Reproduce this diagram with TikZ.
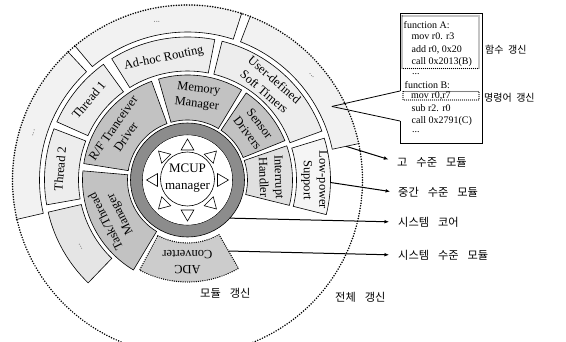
\documentclass[tikz,border=0pt]{standalone}
\usepackage{fontspec}
\setmainfont{Liberation Serif}
\newfontfamily\kfont{Noto Sans CJK KR}
\usetikzlibrary{arrows.meta,calc}
\newcommand\ksp{\hspace{0.8em}}
\newcommand\kssp{\hspace{0.45em}}
% filled + outlined annular sector: style, a1, a2, r1, r2
\newcommand\sector[5]{\path[#1] (#2:#4) arc[start angle=#2,end angle=#3,radius=#4] -- (#3:#5) arc[start angle=#3,end angle=#2,radius=#5] -- cycle;}
% outermost sector: fill, a1, a2 (outer edge left to the dotted circle)
\newcommand\osector[3]{%
  \fill[#1] (#2:148pt) arc[start angle=#2,end angle=#3,radius=148pt] -- (#3:176pt) arc[start angle=#3,end angle=#2,radius=176pt] -- cycle;
  \draw[thinline] (#2:176pt) -- (#2:148pt) arc[start angle=#2,end angle=#3,radius=148pt] -- (#3:176pt);}
\tikzset{
  thinline/.style={line width=0.6pt,draw=black},
  midw/.style={thinline,fill=black!24},
  outw/.style={thinline,fill=black!7},
  lab/.style={align=center,inner sep=0pt,font=\fontsize{12.5}{15.5}\selectfont},
  dots/.style={inner sep=0pt,font=\fontsize{9}{9}\selectfont,text=black!55},
  code/.style={anchor=west,inner sep=0pt,font=\fontsize{10}{10}\selectfont},
  klab/.style={anchor=west,inner sep=0pt,font=\kfont\fontsize{11.2}{13}\selectfont},
  kslab/.style={anchor=west,inner sep=0pt,font=\kfont\fontsize{10}{12}\selectfont},
  conn/.style={line width=1pt,-{Latex[length=4.5pt,width=3.8pt]}},
  bigdots/.style={line width=1.7pt,dash pattern=on 0pt off 2.6pt,line cap=round},
  adcdots/.style={draw=black,line width=1.4pt,dash pattern=on 0pt off 2.2pt,line cap=round},
  boxdots/.style={line width=1.2pt,dash pattern=on 0pt off 2pt,line cap=round},
  tri/.style={thinline,fill=white,line join=miter}
}
\begin{document}
\begin{tikzpicture}[x=1pt,y=1pt]
\useasboundingbox (0,0) rectangle (566,341);
\clip (0,0) rectangle (566,341);
\fill[white] (0,0) rectangle (566,341);
\begin{scope}[shift={(187.5,161)}]
  \coordinate (ctr) at (0,0);
  % outermost ring
  \osector{black!5}{72}{130}
  \osector{black!5}{12}{69}
  \osector{black!5}{133}{193}
  % outer (middle-level) ring
  \sector{outw}{159}{190}{109pt}{143pt}
  \sector{outw}{126}{156}{109pt}{143pt}
  \sector{outw}{79}{122}{109pt}{143pt}
  \sector{outw}{20}{76}{109pt}{143pt}
  \sector{thinline,fill=black!4}{-14}{17}{109pt}{143pt}
  \sector{thinline,fill=black!10}{193}{226}{109pt}{143pt}
  % system-level ring
  \sector{midw}{59}{106}{60pt}{105pt}
  \sector{midw}{110}{171}{60pt}{105pt}
  \sector{midw}{175}{239}{60pt}{105pt}
  \sector{midw}{22}{56}{60pt}{105pt}
  \sector{thinline,fill=black!12}{-14}{19}{60pt}{105pt}
  \sector{adcdots,fill=black!20}{242}{300}{63pt}{102pt}
  % system core
  \fill[black!45,even odd rule] (ctr) circle[radius=57pt] (ctr) circle[radius=45pt];
  \draw[thinline] (ctr) circle[radius=57pt] (ctr) circle[radius=45pt];
  \fill[white] (ctr) circle[radius=44.7pt];
  \draw[thinline] (0,1) circle[radius=27pt];
  \foreach \a in {0,45,...,315}{
    \draw[tri] (\a:41pt) -- ({\a+12}:30.7pt) -- ({\a-12}:30.7pt) -- cycle;
  }
  \node[lab,font=\fontsize{13}{17}\selectfont] (mcup) at (0,1.5) {MCUP\\manager};
  % labels, system-level
  \node[lab,rotate=-7] (mem) at (83:84pt) {Memory\\Manager};
  \node[lab,rotate=55] (rf) at (145:83pt) {R/F Tranceiver\\Driver};
  \node[lab,rotate=-52] (sen) at (38:84pt) {Sensor\\Drivers};
  \node[lab,rotate=-88] (intr) at (2:84pt) {Interrupt\\Handler};
  \node[lab,rotate=117] (task) at (207:83pt) {Task/Thread\\Manager};
  \node[lab,rotate=180] (adc) at (270:82pt) {ADC\\Converter};
  % labels, middle-level
  \node[lab,rotate=50] (th1) at (141:127pt) {Thread 1};
  \node[lab,rotate=85] (th2) at (175:128pt) {Thread 2};
  \node[lab,rotate=12] (adhoc) at (101:124pt) {Ad-hoc Routing};
  \node[lab,rotate=-41] (udef) at (49:125pt) {User-defined\\Soft Timers};
  \node[lab,rotate=-90] (lowp) at (0:127pt) {Low-power\\Support};
  % faint dots
  \node[dots,rotate=11] (d1) at (101:161pt) {...};
  \node[dots,rotate=73] (d2) at (163:161pt) {...};
  \node[dots,rotate=-50] (d3) at (40:162pt) {...};
  \node[dots,rotate=120] (d4) at (212:126pt) {...};
  % anchor points of connectors
  \coordinate (s1) at (12:162pt);
  \coordinate (s2) at (-1:143pt);
  \coordinate (s3) at (-42:57pt);
  \coordinate (s4) at (-60:82pt);
  \coordinate (apex) at (27:162pt);
  % whole update circle
  \draw[bigdots] (ctr) circle[radius=175pt];
\end{scope}
% code box
\coordinate (bA) at (400,250);
\coordinate (bB) at (400,220);
\draw[thinline] (bA) -- (400,328) -- (482,328) -- (482,198) -- (400,198) -- (bB);
\draw[thinline,line width=0.8pt] (apex) -- (bA);
\draw[thinline,line width=0.8pt] (apex) -- (bB);
\draw[boxdots] (402,325) rectangle (479,272.5);
\draw[boxdots] (403,249.5) rectangle (479,241);
\node[code] (l1) at (403.5,316) {function A:};
\node[code] (l2) at (411.5,304.3) {mov r0. r3};
\node[code] (l3) at (411.5,291) {add r0, 0x20};
\node[code] (l4) at (411.5,279.3) {call 0x2013(B)};
\node[code] (l5) at (412,267) {...};
\node[code] (l6) at (404.5,256) {function B:};
\node[code] (l7) at (411,245.3) {mov r0,r7};
\node[code] (l8) at (411.5,232.7) {sub r2. r0};
\node[code] (l9) at (411.5,220.3) {call 0x2791(C)};
\node[code] (l10) at (412,209) {...};
% Korean labels
\node[kslab] (kfun) at (485,291) {함수\kssp{}갱신};
\node[kslab] (kins) at (484,243) {명령어\kssp{}갱신};
\node[klab] (k1) at (397,179) {고\ksp{}수준\ksp{}모듈};
\node[klab] (k2) at (398,148.3) {중간\ksp{}수준\ksp{}모듈};
\node[klab] (k3) at (398,119) {시스템\ksp{}코어};
\node[klab] (k4) at (398,86) {시스템\ksp{}수준\ksp{}모듈};
\node[klab] (kmod) at (200,48) {모듈\ksp{}갱신};
\node[klab] (kall) at (335,44) {전체\ksp{}갱신};
\draw[conn,shorten >=9pt] (s1) -- (k1.west);
\draw[conn,shorten >=8pt] (s2) -- (k2.west);
\draw[conn,shorten >=9pt] (s3) -- (k3.west);
\draw[conn,shorten >=9pt] (s4) -- (k4.west);
\end{tikzpicture}
\end{document}
